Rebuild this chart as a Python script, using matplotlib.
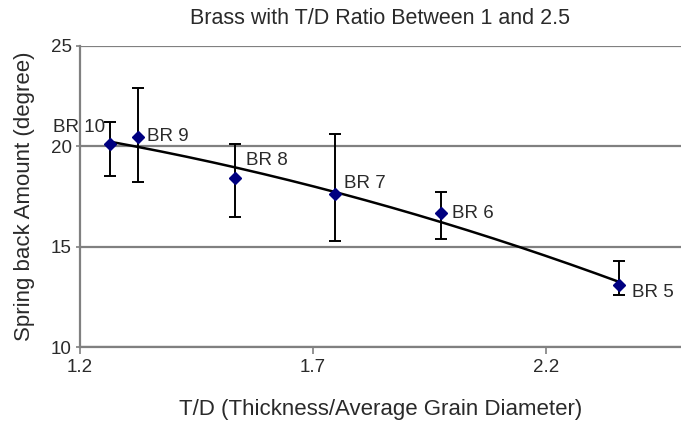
"""Spring back amount vs T/D ratio for brass samples."""

import numpy as np
import matplotlib
matplotlib.use('Agg')
import matplotlib.pyplot as plt

plt.rcParams['font.family'] = ['Liberation Sans', 'DejaVu Sans']

# Data
samples = ['BR 10', 'BR 9', 'BR 8', 'BR 7', 'BR 6', 'BR 5']
td_ratio = [1.264, 1.324, 1.533, 1.747, 1.975, 2.357]
spring_back = [20.1, 20.45, 18.4, 17.6, 16.7, 13.1]
err_upper = [21.2, 22.9, 20.1, 20.6, 17.7, 14.3]
err_lower = [18.5, 18.2, 16.5, 15.3, 15.4, 12.6]

x_ticks = [1.2, 1.7, 2.2]
y_ticks = [10, 15, 20, 25]

TEXT = '#2a2a2a'
GRID = '#808080'

fig = plt.figure(figsize=(6.81, 4.24), dpi=100)
ax = fig.add_axes([80 / 681, 77 / 424, 601 / 681, 301 / 424])

x = np.array(td_ratio)
y = np.array(spring_back)
yerr = [y - np.array(err_lower), np.array(err_upper) - y]

# Polynomial (order 2) trendline
coef = np.polyfit(x, y, 2)
xs = np.linspace(x.min(), x.max(), 200)
ax.plot(xs, np.polyval(coef, xs), color='black', lw=1.8, zorder=3)

ax.errorbar(x, y, yerr=yerr, fmt='D', color='#000080', ms=6,
            ecolor='black', elinewidth=1.4, capsize=4, capthick=1.4, zorder=4)

# Point labels (pixel offsets from each marker)
offsets = {'BR 10': (-57, 17), 'BR 9': (9, 1), 'BR 8': (11, 18),
           'BR 7': (9, 11), 'BR 6': (11, -1), 'BR 5': (13, -8)}
for name, xi, yi in zip(samples, td_ratio, spring_back):
    dx, dy = offsets[name]
    ax.annotate(name, (xi, yi), xytext=(dx, dy), textcoords='offset pixels',
                fontsize=13.5, color=TEXT, va='center', ha='left', zorder=5)

ax.set_xlim(1.2, 2.49)
ax.set_ylim(10, 25)
ax.set_xticks(x_ticks)
ax.set_xticklabels([str(t) for t in x_ticks])
ax.set_yticks(y_ticks)

ax.grid(axis='y', color=GRID, lw=1.6)
ax.set_axisbelow(True)
for s in ['top', 'right']:
    ax.spines[s].set_visible(False)
for s in ['left', 'bottom']:
    ax.spines[s].set_color(GRID)
    ax.spines[s].set_linewidth(1.6)
ax.tick_params(axis='y', direction='out', length=3, width=1.2, color=GRID,
               labelsize=13.5, labelcolor=TEXT, pad=3)
ax.tick_params(axis='x', direction='out', length=5, width=1.2, color=GRID,
               labelsize=13.5, labelcolor=TEXT, pad=4)

ax.text(0.5, 1.093, 'Brass with T/D Ratio Between 1 and 2.5', transform=ax.transAxes,
        ha='center', va='center', fontsize=15.5, color=TEXT)
ax.set_xlabel('T/D (Thickness/Average Grain Diameter)', fontsize=16, color=TEXT, va='center')
ax.xaxis.set_label_coords(0.5, -0.209)
ax.set_ylabel('Spring back Amount (degree)', fontsize=16, color=TEXT, va='center')
ax.yaxis.set_label_coords(-0.093, 0.5)

fig.savefig('out.png', dpi=100, facecolor='white')
